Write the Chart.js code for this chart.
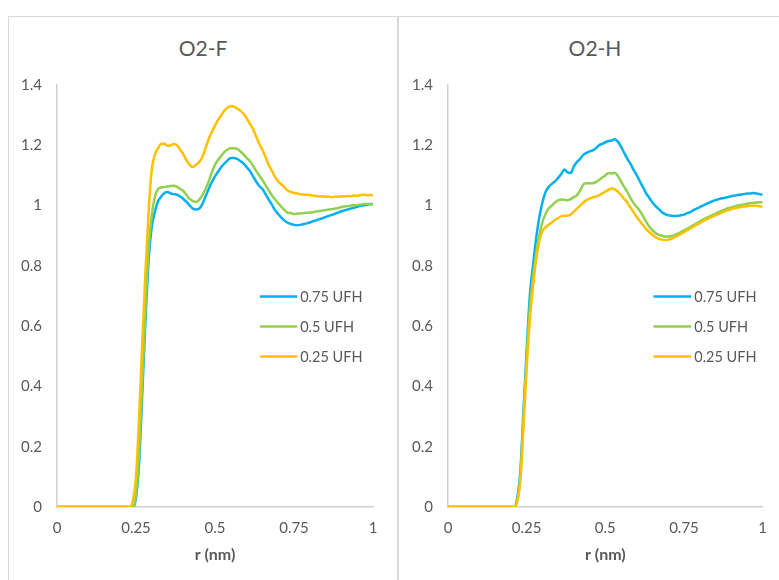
<!DOCTYPE html>
<html>
<head>
<meta charset="utf-8">
<script src="https://cdn.jsdelivr.net/npm/chart.js@4.4.1/dist/chart.umd.min.js"></script>
<style>
  html, body { margin: 0; padding: 0; background: #fff; }
  body { width: 779px; height: 580px; position: relative; overflow: hidden; font-family: Lato, "Open Sans", sans-serif; }
  .panel { position: absolute; top: 16px; height: 620px; border: 1px solid #d9d9d9; box-sizing: border-box; }
  .ttl { position: absolute; top: 36px; height: 24px; line-height: 24px; text-align: center; font-size: 21px; color: #595959; }
  canvas { position: absolute; top: 16px; }
</style>
</head>
<body>
<div class="panel" style="left:8px;width:390px"></div>
<div class="panel" style="left:398px;width:400px"></div>
<div class="ttl" style="left:8px;width:390px">O2-F</div>
<div class="ttl" style="left:399px;width:392px">O2-H</div>
<canvas id="chartF" width="390" height="564" style="left:8px"></canvas>
<canvas id="chartH" width="380" height="564" style="left:399px"></canvas>

<script>
/* =========================
   DATA
========================= */

// r (nm) sample points, shared by all series
const rValues = [0, 0.2,
  0.21, 0.22, 0.23, 0.24, 0.25, 0.26, 0.27, 0.28, 0.29, 0.30,
  0.31, 0.32, 0.33, 0.34, 0.35, 0.36, 0.37, 0.38, 0.39, 0.40,
  0.41, 0.42, 0.43, 0.44, 0.45, 0.46, 0.47, 0.48, 0.49, 0.50,
  0.51, 0.52, 0.53, 0.54, 0.55, 0.56, 0.57, 0.58, 0.59, 0.60,
  0.61, 0.62, 0.63, 0.64, 0.65, 0.66, 0.67, 0.68, 0.69, 0.70,
  0.71, 0.72, 0.73, 0.74, 0.75, 0.76, 0.77, 0.78, 0.79, 0.80,
  0.81, 0.82, 0.83, 0.84, 0.85, 0.86, 0.87, 0.88, 0.89, 0.90,
  0.91, 0.92, 0.93, 0.94, 0.95, 0.96, 0.97, 0.98, 0.99, 1.00];

const seriesLabels = ["0.75 UFH", "0.5 UFH", "0.25 UFH"];
const xTicks = [0, 0.25, 0.5, 0.75, 1];
const yTicks = [0, 0.2, 0.4, 0.6, 0.8, 1, 1.2, 1.4];

// O2-F panel
const f075 = [0, 0,
  0, 0, 0, 0, 0.03, 0.15, 0.38, 0.62, 0.82, 0.93,
  0.98, 1.015, 1.03, 1.042, 1.045, 1.04, 1.038, 1.036, 1.03, 1.022,
  1.012, 1.0, 0.99, 0.987, 0.99, 1.005, 1.03, 1.055, 1.078, 1.097,
  1.113, 1.128, 1.14, 1.15, 1.158, 1.158, 1.155, 1.148, 1.14, 1.128,
  1.115, 1.098, 1.08, 1.065, 1.055, 1.038, 1.02, 1.003, 0.985, 0.972,
  0.96, 0.95, 0.943, 0.939, 0.936, 0.935, 0.936, 0.938, 0.941, 0.944,
  0.948, 0.951, 0.955, 0.958, 0.962, 0.966, 0.969, 0.973, 0.977, 0.981,
  0.984, 0.987, 0.99, 0.993, 0.996, 0.999, 1.001, 1.003, 1.004, 1.004];

const f050 = [0, 0,
  0, 0, 0, 0, 0.04, 0.18, 0.42, 0.66, 0.86, 0.97,
  1.03, 1.055, 1.06, 1.062, 1.063, 1.065, 1.066, 1.062, 1.055, 1.048,
  1.035, 1.022, 1.015, 1.012, 1.02, 1.035, 1.055, 1.08, 1.11, 1.135,
  1.152, 1.165, 1.178, 1.186, 1.19, 1.19, 1.188, 1.18, 1.17, 1.158,
  1.148, 1.133, 1.115, 1.1, 1.085, 1.068, 1.05, 1.034, 1.02, 1.008,
  0.996, 0.985, 0.976, 0.975, 0.972, 0.973, 0.974, 0.975, 0.976, 0.977,
  0.978, 0.98, 0.982, 0.983, 0.985, 0.987, 0.988, 0.99, 0.992, 0.995,
  0.997, 0.998, 1.0, 1.001, 1.002, 1.003, 1.005, 1.005, 1.006, 1.005];

const f025 = [0, 0,
  0, 0, 0, 0.02, 0.1, 0.3, 0.55, 0.78, 0.98, 1.12,
  1.17, 1.19, 1.205, 1.205, 1.198, 1.2, 1.204, 1.2, 1.185, 1.17,
  1.15, 1.135, 1.128, 1.135, 1.145, 1.16, 1.19, 1.22, 1.245, 1.265,
  1.285, 1.3, 1.315, 1.325, 1.33, 1.328, 1.322, 1.315, 1.305, 1.29,
  1.272, 1.255, 1.23, 1.205, 1.185, 1.16, 1.135, 1.115, 1.095, 1.08,
  1.07, 1.06, 1.05, 1.045, 1.042, 1.04, 1.038, 1.036, 1.036, 1.035,
  1.033, 1.032, 1.03, 1.031, 1.029, 1.03, 1.028, 1.03, 1.029, 1.031,
  1.03, 1.032, 1.031, 1.033, 1.032, 1.035, 1.036, 1.034, 1.035, 1.033];

// O2-H panel
const h075 = [0, 0,
  0, 0.03, 0.12, 0.32, 0.52, 0.7, 0.8, 0.89, 0.96, 1.01,
  1.045, 1.062, 1.072, 1.08, 1.092, 1.105, 1.12, 1.11, 1.108, 1.13,
  1.145, 1.155, 1.168, 1.175, 1.18, 1.183, 1.19, 1.2, 1.205, 1.21,
  1.214, 1.216, 1.22, 1.212, 1.195, 1.175, 1.155, 1.138, 1.118, 1.1,
  1.08, 1.06, 1.04, 1.025, 1.01, 0.998, 0.988, 0.978, 0.972, 0.968,
  0.966, 0.965, 0.966, 0.968, 0.97, 0.975, 0.978, 0.985, 0.99, 0.995,
  1.0, 1.005, 1.01, 1.014, 1.018, 1.021, 1.024, 1.026, 1.028, 1.031,
  1.033, 1.035, 1.036, 1.038, 1.04, 1.04, 1.042, 1.04, 1.038, 1.036];

const h050 = [0, 0,
  0, 0.02, 0.1, 0.3, 0.5, 0.66, 0.76, 0.84, 0.9, 0.945,
  0.972, 0.99, 1.0, 1.01, 1.017, 1.02, 1.019, 1.018, 1.022, 1.028,
  1.035, 1.05, 1.07, 1.074, 1.074, 1.074, 1.078, 1.085, 1.093, 1.1,
  1.108, 1.106, 1.109, 1.098, 1.08, 1.062, 1.045, 1.025, 1.008, 0.995,
  0.982, 0.965, 0.946, 0.93, 0.918, 0.908, 0.903, 0.9, 0.897, 0.897,
  0.899, 0.902, 0.907, 0.912, 0.918, 0.923, 0.929, 0.935, 0.941, 0.947,
  0.953, 0.958, 0.963, 0.968, 0.973, 0.978, 0.983, 0.987, 0.991, 0.994,
  0.997, 1.0, 1.002, 1.004, 1.006, 1.008, 1.009, 1.01, 1.011, 1.011];

const h025 = [0, 0,
  0, 0.02, 0.09, 0.27, 0.46, 0.62, 0.73, 0.82, 0.88, 0.915,
  0.928, 0.936, 0.944, 0.952, 0.958, 0.965, 0.966, 0.967, 0.97, 0.98,
  0.99, 1.0, 1.01, 1.018, 1.023, 1.027, 1.03, 1.034, 1.04, 1.046,
  1.052, 1.057, 1.054, 1.046, 1.035, 1.022, 1.01, 0.993, 0.978, 0.962,
  0.948, 0.935, 0.922, 0.912, 0.903, 0.895, 0.89, 0.887, 0.886, 0.887,
  0.89, 0.895, 0.9, 0.906, 0.912, 0.918, 0.924, 0.93, 0.936, 0.942,
  0.948, 0.953, 0.958, 0.963, 0.968, 0.972, 0.977, 0.981, 0.985, 0.988,
  0.991, 0.993, 0.995, 0.997, 0.998, 0.999, 1.0, 0.999, 0.998, 0.996];


/* =========================
   STYLE
========================= */

const COLORS = ["#00b0f0", "#92d050", "#ffc000"];
const TEXT = "#595959";
const AXIS = "#d0d0d0";
const FONT = "Lato, 'Open Sans', sans-serif";

// plain number labels: 0.25, 1, 1.4 (no forced decimals)
const fmtTick = v => String(Math.round(v * 100) / 100);


/* =========================
   LEGEND INSIDE PLOT
========================= */

// draws the legend at axis-value anchors inside the plot area
const insideLegend = {
  id: "insideLegend",
  afterDatasetsDraw(chart, args, opts) {
    const { ctx, scales: { x, y } } = chart;
    const x0 = x.getPixelForValue(opts.x0);
    const x1 = x.getPixelForValue(opts.x1);
    chart.data.datasets.forEach((ds, i) => {
      const yy = Math.round(y.getPixelForValue(opts.rows[i])) + 0.5;
      ctx.save();
      ctx.strokeStyle = ds.borderColor;
      ctx.lineWidth = 2.5;
      ctx.beginPath();
      ctx.moveTo(x0, yy);
      ctx.lineTo(x1, yy);
      ctx.stroke();
      ctx.fillStyle = TEXT;
      ctx.font = `14.5px ${FONT}`;
      ctx.textBaseline = "middle";
      ctx.fillText(ds.label, x1 + 3, yy + 1);
      ctx.restore();
    });
  }
};

function toPoints(values) {
  return values.map((v, i) => ({ x: rValues[i], y: v }));
}

function buildChart(canvasId, series, rightPad, legendX) {
  return new Chart(document.getElementById(canvasId), {
    type: "line",
    data: {
      datasets: series.map((vals, i) => ({
        label: seriesLabels[i],
        data: toPoints(vals),
        borderColor: COLORS[i],
        borderWidth: 2.5,
        pointRadius: 0,
        cubicInterpolationMode: "monotone",
        order: i === 2 ? 0 : 3 - i
      }))
    },
    options: {
      responsive: false,
      animation: false,
      layout: { padding: { left: 0, right: rightPad, top: 69, bottom: 13 } },
      plugins: {
        legend: { display: false },
        tooltip: { enabled: false },
        insideLegend: { x0: legendX[0], x1: legendX[1], rows: [0.7, 0.6, 0.5] }
      },
      scales: {
        x: {
          type: "linear",
          min: 0,
          max: 1,
          afterBuildTicks: s => { s.ticks = xTicks.map(v => ({ value: v })); },
          afterFit: s => { s.height = 60; },
          grid: { display: false, drawTicks: false },
          border: { display: true, color: AXIS, width: 1.5 },
          ticks: { color: TEXT, font: { family: FONT, size: 15 }, padding: 12, maxRotation: 0, callback: fmtTick },
          title: {
            display: true,
            text: "r (nm)",
            color: TEXT,
            font: { family: FONT, size: 16, weight: "bold" },
            padding: { top: 0, bottom: 3 }
          }
        },
        y: {
          min: 0,
          max: 1.4,
          afterBuildTicks: s => { s.ticks = yTicks.map(v => ({ value: v })); },
          afterFit: s => { s.width = 49; },
          grid: { display: false, drawTicks: false },
          border: { display: true, color: AXIS, width: 1.5 },
          ticks: { color: TEXT, font: { family: FONT, size: 15 }, padding: 15, callback: fmtTick }
        }
      }
    },
    plugins: [insideLegend]
  });
}


/* =========================
   INIT
========================= */

buildChart("chartF", [f075, f050, f025], 25, [0.642, 0.76]);
buildChart("chartH", [h075, h050, h025], 14, [0.653, 0.773]);
</script>
</body>
</html>
